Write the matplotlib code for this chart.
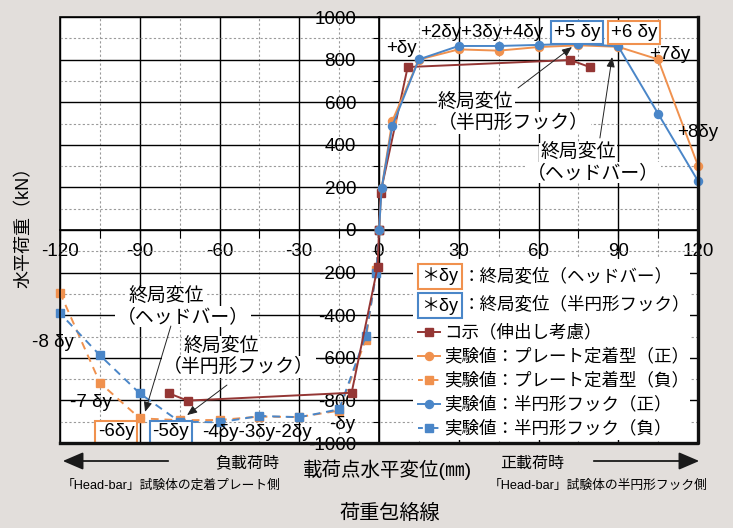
import matplotlib
matplotlib.use("Agg")
import matplotlib.pyplot as plt
from matplotlib.ticker import MultipleLocator
from matplotlib.patches import Rectangle, FancyArrowPatch
from matplotlib.lines import Line2D

plt.rcParams["font.family"] = ["Liberation Sans", "Noto Sans CJK JP"]
plt.rcParams["axes.unicode_minus"] = False

# ---- envelope data (displacement mm, load kN) ----
pos_disp = [0, 1, 5, 15, 30, 45, 60, 75, 90, 105, 120]
neg_disp = [0, -1, -5, -15, -30, -45, -60, -75, -90, -105, -120]

plate_pos_load = [0, 196, 512, 800, 848, 842, 859, 867, 860, 801, 302]
plate_neg_load = [0, -190, -516, -848, -878, -876, -892, -893, -884, -717, -294]
hook_pos_load = [0, 196, 488, 801, 864, 864, 869, 875, 862, 546, 230]
hook_neg_load = [0, -200, -498, -842, -879, -873, -903, -900, -767, -588, -391]

calc_disp = [-79, -72, -10.3, -0.5, 0, 0.6, 10.8, 72, 79.5]
calc_load = [-767, -801, -764, -172, 0, 175, 765, 798, 764]

x_ticks = [-120, -90, -60, -30, 0, 30, 60, 90, 120]
y_ticks = [-1000, -800, -600, -400, -200, 0, 200, 400, 600, 800, 1000]

BG = "#E2DEDB"
ORANGE = "#F0914E"
BLUE = "#4A86C8"
RED = "#943634"

W, H = 733, 528
fig = plt.figure(figsize=(W / 100, H / 100), dpi=100, facecolor=BG)
ax = fig.add_axes([60 / W, 1 - 443 / H, 638 / W, 426 / H])
ax.set_facecolor("white")
ax.set_xlim(-120, 120)
ax.set_ylim(-1000, 1000)

# grid: solid major, dashed minor
ax.set_xticks(x_ticks)
ax.set_yticks(y_ticks)
ax.xaxis.set_minor_locator(MultipleLocator(15))
ax.yaxis.set_minor_locator(MultipleLocator(100))
ax.set_axisbelow(True)
ax.grid(which="major", color="black", lw=1.0)
ax.grid(which="minor", color="#9a9a9a", lw=0.8, ls=(0, (2, 2)))

# axes crossing at the origin
for side in ("left", "bottom"):
    ax.spines[side].set_position(("data", 0))
    ax.spines[side].set_linewidth(1.2)
for side in ("top", "right"):
    ax.spines[side].set_visible(False)
ax.tick_params(axis="x", which="both", direction="out", length=6, width=0.8,
               labelsize=13.5, pad=3)
ax.tick_params(axis="y", which="both", direction="out", length=4, width=0.8,
               labelsize=13.5, pad=12.5)

# outer frame with a heavier right / bottom edge
ax.add_patch(Rectangle((0, 0), 1, 1, transform=ax.transAxes, fill=False,
                       ec="black", lw=1.2, clip_on=False, zorder=6))
ax.add_line(Line2D([0, 1, 1], [0, 0, 1], transform=ax.transAxes, color="#111111",
                   lw=2.4, clip_on=False, zorder=6))

# ---- series ----
line_kw = dict(lw=1.4, ms=5.8, clip_on=False)
styles = {
    "plate_neg": dict(color=ORANGE, ls=(0, (4, 3)), marker="s"),
    "hook_neg": dict(color=BLUE, ls=(0, (4, 3)), marker="s"),
    "calc": dict(color=RED, ls="-", marker="s"),
    "plate_pos": dict(color=ORANGE, ls="-", marker="o"),
    "hook_pos": dict(color=BLUE, ls="-", marker="o"),
}
ax.plot(neg_disp, plate_neg_load, zorder=3, **styles["plate_neg"], **line_kw)
ax.plot(neg_disp, hook_neg_load, zorder=3.1, **styles["hook_neg"], **line_kw)
ax.plot(calc_disp, calc_load, zorder=3.2, **styles["calc"], **line_kw)
ax.plot(pos_disp, plate_pos_load, zorder=3.3, **styles["plate_pos"], **line_kw)
ax.plot(pos_disp, hook_pos_load, zorder=3.4, **styles["hook_pos"], **line_kw)

# ---- cycle labels ----
lab = dict(fontsize=13.5, ha="center", va="center", zorder=5)
ax.text(8.3, 854, "+δy", **lab)
ax.text(38.8, 925, "+2δy+3δy+4δy", **lab)
ax.text(74.5, 928, "+5 δy", bbox=dict(boxstyle="square,pad=0.15", fc="white", ec=BLUE, lw=1.5), **lab)
ax.text(95.9, 928, "+6 δy", bbox=dict(boxstyle="square,pad=0.15", fc="white", ec=ORANGE, lw=1.5), **lab)
ax.text(109.5, 826, "+7δy", **lab)
ax.text(120, 460, "+8δy", clip_on=False, **lab)
ax.text(-122.6, -526, "-8 δy", clip_on=False, **lab)
ax.text(-108.4, -808, "-7 δy", **lab)
ax.text(-98.9, -948, "-6δy", bbox=dict(boxstyle="square,pad=0.15", fc="white", ec=ORANGE, lw=1.5), **lab)
ax.text(-78.3, -948, "-5δy", bbox=dict(boxstyle="square,pad=0.15", fc="white", ec=BLUE, lw=1.5), **lab)
ax.text(-45.9, -953, "-4δy-3δy-2δy", **lab)
ax.text(-13.9, -911, "-δy", **lab)

# ---- ultimate displacement call-outs ----
note = dict(fontsize=13.6, ha="left", va="center", zorder=4.5,
            bbox=dict(boxstyle="square,pad=0.08", fc="white", ec="none"))
arrow = dict(arrowstyle="-|>,head_length=0.6,head_width=0.25", color="#222222",
             lw=0.7, mutation_scale=10, shrinkA=0, shrinkB=0)

callouts = [
    # (line1 pos, line2 pos, second line, tail, head)
    ((22.2, 596), (22.2, 502), "（半円形フック）", (52.3, 667), (72.6, 859)),
    ((60.6, 361), (55.7, 268), "（ヘッドバー）", (83.1, 432), (87.7, 812)),
    ((-94.4, -315), (-98.6, -408), "（ヘッドバー）", (-78.3, -451), (-88.0, -854)),
    ((-73.7, -549), (-81.2, -643), "（半円形フック）", (-57.2, -728), (-72.2, -869)),
]
for p1, p2, second, tail, head in callouts:
    ax.text(*p1, "終局変位", **note)
    ax.text(*p2, second, **note)
    ax.annotate("", xy=head, xytext=tail, arrowprops=arrow, zorder=4.6)

# ---- legend ----
ax.add_patch(Rectangle((12.8, -986), 104.2, 986 - 137, fc="white", ec="none", zorder=4))
box_kw = dict(fontsize=13, ha="center", va="center", zorder=5)
ax.text(22.9, -218, "＊δy", bbox=dict(boxstyle="square,pad=0.2", fc="white", ec=ORANGE, lw=1.5), **box_kw)
ax.text(22.9, -355, "＊δy", bbox=dict(boxstyle="square,pad=0.2", fc="white", ec=BLUE, lw=1.5), **box_kw)
leg_txt = dict(fontsize=12.6, ha="left", va="center", zorder=5)
ax.text(31.6, -216, "：終局変位（ヘッドバー）", **leg_txt)
ax.text(31.6, -348, "：終局変位（半円形フック）", **leg_txt)

legend_rows = [
    ("calc", "コ示（伸出し考慮）"),
    ("plate_pos", "実験値：プレート定着型（正）"),
    ("plate_neg", "実験値：プレート定着型（負）"),
    ("hook_pos", "実験値：半円形フック（正）"),
    ("hook_neg", "実験値：半円形フック（負）"),
]
row_y = [-479, -592, -705, -817, -930]
for (key, text), yy in zip(legend_rows, row_y):
    st = dict(styles[key])
    if st["ls"] != "-":
        st["ls"] = (0, (2.5, 1.5))
    ax.add_line(Line2D([14.7, 18.8, 22.9], [yy, yy, yy], markevery=[1], lw=1.4, ms=5.8,
                       zorder=5, **st))
    ax.text(24.6, yy, text, **leg_txt)

# ---- axis titles and loading direction notes ----
def fx(px):
    return px / W

def fy(py):
    return 1 - py / H

fig.text(fx(24), fy(223), "水平荷重（kN）", rotation=90, ha="center", va="center", fontsize=13)
fig.text(fx(387), fy(470), "載荷点水平変位(㎜)", ha="center", va="center", fontsize=14)
fig.text(fx(247), fy(463), "負載荷時", ha="center", va="center", fontsize=11.5)
fig.text(fx(532), fy(463), "正載荷時", ha="center", va="center", fontsize=11.5)
fig.text(fx(171), fy(486), "「Head-bar」試験体の定着プレート側", ha="center", va="center", fontsize=9.2)
fig.text(fx(598), fy(486), "「Head-bar」試験体の半円形フック側", ha="center", va="center", fontsize=9.2)
fig.text(fx(390), fy(513), "荷重包絡線", ha="center", va="center", fontsize=14.5)

dir_arrow = dict(arrowstyle="-|>,head_length=0.7,head_width=0.3", mutation_scale=18,
                 lw=1.3, color="#1a1a1a", transform=fig.transFigure)
fig.add_artist(FancyArrowPatch((fx(171), fy(461)), (fx(60), fy(461)), **dir_arrow))
fig.add_artist(FancyArrowPatch((fx(591), fy(461)), (fx(702), fy(461)), **dir_arrow))

fig.savefig("out.png", dpi=100, facecolor=BG)
